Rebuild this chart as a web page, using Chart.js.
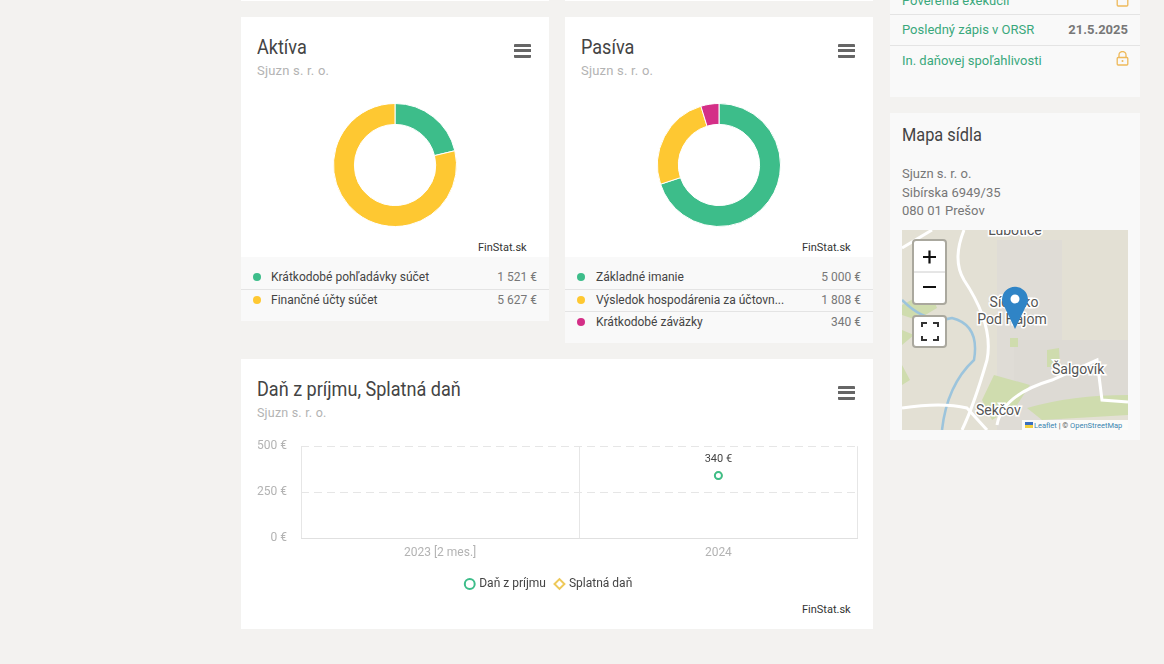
<!DOCTYPE html>
<html lang="sk">
<head>
<meta charset="utf-8">
<title>Sjuzn s. r. o.</title>
<script src="https://cdn.jsdelivr.net/npm/chart.js@4"></script>
<style>
html,body{margin:0;padding:0;background:#f3f2f0;width:1164px;height:664px;overflow:hidden;font-family:Roboto,sans-serif;color:#444}
.box{position:absolute}
.white{background:#fff}
.grey{background:#f9f9f9}
.txt{position:absolute;white-space:nowrap}
.title{font-size:21px;line-height:24px;color:#444;transform-origin:0 50%;transform:scaleX(.86)}
.sub{font-size:13px;line-height:16px;color:#b3b3b3;letter-spacing:.2px}
.fin{font-size:11px;line-height:14px;color:#333}
.row{font-size:12px;line-height:16px;color:#444}
.val{font-size:12px;line-height:16px;color:#777;text-align:right}
.dot{position:absolute;width:8px;height:8px;border-radius:50%}
.line{position:absolute;height:1px;background:#e4e4e4}
.burger{position:absolute;width:17px;height:14px;background:linear-gradient(#666 0 3px,transparent 3px 5.5px,#666 5.5px 8.5px,transparent 8.5px 11px,#666 11px 14px);border-radius:1px}
.green{color:#3aa87c;font-size:13px;line-height:16px}
canvas{position:absolute}
</style>
</head>
<body>
<!-- cards -->
<div class="box white" style="left:241px;top:0;width:308px;height:1px"></div>
<div class="box white" style="left:565px;top:0;width:308px;height:1px"></div>
<div class="box white" style="left:241px;top:17px;width:308px;height:240px"></div>
<div class="box grey" style="left:241px;top:257px;width:308px;height:64px"></div>
<div class="box white" style="left:565px;top:17px;width:308px;height:240px"></div>
<div class="box grey" style="left:565px;top:257px;width:308px;height:86px"></div>
<div class="box white" style="left:241px;top:359px;width:632px;height:270px"></div>
<div class="box grey" style="left:890px;top:0;width:250px;height:97px"></div>
<div class="box grey" style="left:890px;top:113px;width:250px;height:327px"></div>

<div class="txt title" style="left:257px;top:35px">Aktíva</div>
<div class="txt sub" style="left:257px;top:63px">Sjuzn s. r. o.</div>
<div class="burger" style="left:514px;top:44px"></div>
<div class="txt fin" style="left:478px;top:241px">FinStat.sk</div>
<canvas id="aktivaChart" style="left:241px;top:90px;width:308px;height:150px"></canvas>
<div class="dot" style="left:253px;top:273px;background:#3dbd8a"></div>
<div class="txt row" style="left:271px;top:269px">Krátkodobé pohľadávky súčet</div>
<div class="txt val" style="right:627px;top:269px">1 521 €</div>
<div class="line" style="left:241px;top:289px;width:308px"></div>
<div class="dot" style="left:253px;top:296px;background:#fec832"></div>
<div class="txt row" style="left:271px;top:292px">Finančné účty súčet</div>
<div class="txt val" style="right:627px;top:292px">5 627 €</div>

<div class="txt title" style="left:581px;top:35px">Pasíva</div>
<div class="txt sub" style="left:581px;top:63px">Sjuzn s. r. o.</div>
<div class="burger" style="left:838px;top:44px"></div>
<div class="txt fin" style="left:802px;top:241px">FinStat.sk</div>
<canvas id="pasivaChart" style="left:565px;top:90px;width:308px;height:150px"></canvas>
<div class="dot" style="left:577px;top:273px;background:#3dbd8a"></div>
<div class="txt row" style="left:596px;top:269px">Základné imanie</div>
<div class="txt val" style="right:303px;top:269px">5 000 €</div>
<div class="line" style="left:565px;top:289px;width:308px"></div>
<div class="dot" style="left:577px;top:296px;background:#fec832"></div>
<div class="txt row" style="left:596px;top:292px">Výsledok hospodárenia za účtovn...</div>
<div class="txt val" style="right:303px;top:292px">1 808 €</div>
<div class="line" style="left:565px;top:311px;width:308px"></div>
<div class="dot" style="left:577px;top:318px;background:#d42f87"></div>
<div class="txt row" style="left:596px;top:314px">Krátkodobé záväzky</div>
<div class="txt val" style="right:303px;top:314px">340 €</div>

<div class="txt title" style="left:257px;top:377px">Daň z príjmu, Splatná daň</div>
<div class="txt sub" style="left:257px;top:405px;font-size:12.5px">Sjuzn s. r. o.</div>
<div class="burger" style="left:838px;top:386px"></div>
<canvas id="danChart" style="left:241px;top:425px;width:632px;height:175px"></canvas>
<div class="txt fin" style="left:802px;top:603px">FinStat.sk</div>

<!-- side column -->
<div class="line" style="left:890px;top:14px;width:250px"></div>
<div class="txt green" style="left:902px;top:-7px">Poverenia exekúcií</div>
<div class="txt green" style="left:902px;top:22px">Posledný zápis v ORSR</div>
<div class="txt" style="right:36px;top:22px;font-size:13px;line-height:16px;font-weight:700;color:#777">21.5.2025</div>
<div class="line" style="left:890px;top:45px;width:250px"></div>
<div class="txt green" style="left:902px;top:53px">In. daňovej spoľahlivosti</div>
<svg class="box" style="left:1116px;top:51px" width="13" height="15" viewBox="0 0 13 15"><path d="M3 7V4a3.5 3.5 0 0 1 7 0v3" fill="none" stroke="#eeb95a" stroke-width="1.3"/><rect x="1.2" y="6.5" width="10.6" height="7.5" rx="1" fill="none" stroke="#eeb95a" stroke-width="1.3"/><circle cx="6.5" cy="10" r="1" fill="#eeb95a"/></svg>
<svg class="box" style="left:1116px;top:-8px" width="13" height="15" viewBox="0 0 13 15"><rect x="1.2" y="6.5" width="10.6" height="7.5" rx="1" fill="none" stroke="#eeb95a" stroke-width="1.3"/></svg>
<div class="txt title" style="left:902px;top:123px;font-size:19px">Mapa sídla</div>
<div class="txt" style="left:902px;top:165px;font-size:13px;line-height:18.5px;color:#777">Sjuzn s. r. o.<br>Sibírska 6949/35<br>080 01 Prešov</div>

<svg class="box" style="left:902px;top:230px" width="226" height="200" viewBox="0 0 226 200" font-family="Roboto,sans-serif">
  <rect width="226" height="200" fill="#e3e0d4"/>
  <rect x="95" y="10" width="65" height="190" fill="#dfdcd6"/>
  <rect x="112" y="110" width="114" height="70" fill="#dddad4"/>
  <path d="M0 75 L28 60 L35 78 L15 90 L0 85Z M0 100 L12 105 L0 115Z M0 135 L8 150 L0 155Z M145 120 L157 118 L158 137 L145 137Z M108 108 L116 108 L116 117 L108 117Z M125 178 Q170 165 226 165 L226 185 L140 190Z M92 145 L128 155 L115 175 L90 190 L80 170Z" fill="#cfdcae"/>
  <path d="M0 70 Q25 95 50 88 Q78 95 72 130 Q45 155 40 200" fill="none" stroke="#9cc4dc" stroke-width="2.5"/>
  <path d="M62 0 Q50 30 62 50 Q92 95 85 130 Q72 175 60 200 M0 18 L30 0 M0 178 Q40 172 65 178 L85 200 M95 195 Q100 165 150 150 L195 130 L200 170 L226 172" fill="none" stroke="#fff" stroke-width="3"/>
  <text x="113" y="5" text-anchor="middle" font-size="14" fill="#555" stroke="#fff" stroke-width="3" paint-order="stroke">Ľubotice</text>
  <g font-size="14" fill="#555" stroke="#fff" stroke-width="3" paint-order="stroke">
    <text x="112" y="77" text-anchor="middle">Sídlisko</text>
    <text x="110" y="94" text-anchor="middle">Pod Hájom</text>
    <text x="150" y="144">Šalgovík</text>
    <text x="74" y="185">Sekčov</text>
  </g>
  <path d="M113 99 L103 78 A13 13 0 1 1 123 78Z" fill="#2f84c6"/>
  <circle cx="113" cy="69" r="4.5" fill="#fff"/>
  <rect x="120" y="190" width="106" height="10" fill="#fff" opacity=".85"/>
  <text x="132" y="197.5" font-size="7.5" fill="#3a86b0">Leaflet <tspan fill="#555">| ©</tspan> OpenStreetMap</text>
  <rect x="123" y="192" width="8" height="3" fill="#3a6fc0"/><rect x="123" y="195" width="8" height="3" fill="#f0d040"/>
  <rect x="11" y="10" width="33" height="64" rx="3" fill="#fff" stroke="#aaa89e" stroke-width="2"/>
  <line x1="12" y1="42" x2="43" y2="42" stroke="#ccc"/>
  <path d="M21 27H34M27.500 20.500V33.500M21 57H34" stroke="#111" stroke-width="2.200"/>
  <rect x="11" y="86" width="33" height="31" rx="3" fill="#fff" stroke="#aaa89e" stroke-width="2"/>
  <path d="M20 97V93H25M31 93H36V97M36 106V110H31M25 110H20V106" fill="none" stroke="#333" stroke-width="2"/>
</svg>

<script>
// data
var aktivaLabels = ["Krátkodobé pohľadávky súčet", "Finančné účty súčet"];
var aktivaValues = [1521, 5627];
var pasivaLabels = ["Základné imanie", "Výsledok hospodárenia za účtovné obdobie", "Krátkodobé záväzky"];
var pasivaValues = [5000, 1808, 340];
var danYears = ["2023 [2 mes.]", "2024"];
var danZPrijmu = [null, 340];
var splatnaDan = [null, 340];
var danTicks = [0, 250, 500];

var green = "#3dbd8a", yellow = "#fec832", pink = "#d42f87";
Chart.defaults.font.family = "Roboto, sans-serif";
Chart.defaults.animation = false;

function makeDonut(id, labels, values, colors) {
    new Chart(document.getElementById(id), {
        type: "doughnut",
        data: {
            labels: labels,
            datasets: [{ data: values, backgroundColor: colors, borderColor: "#fff", borderWidth: 1 }]
        },
        options: {
            responsive: false,
            cutout: "66%",
            layout: { padding: 13 },
            plugins: { legend: { display: false }, tooltip: { enabled: false } }
        }
    });
}

function sizeCanvas(id, w, h) {
    var c = document.getElementById(id);
    c.width = w;
    c.height = h;
}
sizeCanvas("aktivaChart", 308, 150);
sizeCanvas("pasivaChart", 308, 150);
sizeCanvas("danChart", 632, 175);

makeDonut("aktivaChart", aktivaLabels, aktivaValues, [green, yellow]);
makeDonut("pasivaChart", pasivaLabels, pasivaValues, [green, yellow, pink]);

// value label above the point
var valueLabel = {
    id: "valueLabel",
    afterDatasetsDraw: function (chart) {
        var meta = chart.getDatasetMeta(1);
        var ctx = chart.ctx;
        ctx.save();
        ctx.font = "11px Roboto, sans-serif";
        ctx.fillStyle = "#444";
        ctx.textAlign = "center";
        ctx.textBaseline = "middle";
        splatnaDan.forEach(function (v, i) {
            if (v === null) return;
            ctx.fillText(v + " €", meta.data[i].x, meta.data[i].y - 16);
        });
        ctx.restore();
    }
};

new Chart(document.getElementById("danChart"), {
    type: "line",
    data: {
        labels: danYears,
        datasets: [
            {
                label: "Daň z príjmu", data: danZPrijmu, showLine: false, pointStyle: "circle",
                pointRadius: 3.5, borderColor: green, backgroundColor: "#fff", pointBorderWidth: 2
            },
            {
                label: "Splatná daň", data: splatnaDan, showLine: false, pointStyle: "circle",
                pointRadius: 3.5, borderColor: "rgba(232,206,70,.9)", backgroundColor: "rgba(240,228,90,.95)", pointBorderWidth: 1.500
            }
        ]
    },
    options: {
        responsive: false,
        layout: { padding: { top: 9, right: 15.500, left: 0, bottom: 0 } },
        scales: {
            x: {
                offset: true,
                grid: { offset: true, color: "#e6e6e6", drawTicks: false },
                border: { color: "#e0e0e0" },
                ticks: { color: "#b3b3b3", font: { size: 12 }, padding: 8 },
                afterFit: function (s) { s.height = 30; }
            },
            y: {
                min: 0, max: 500,
                afterBuildTicks: function (s) { s.ticks = danTicks.map(function (v) { return { value: v }; }); },
                grid: { color: "#e6e6e6", drawTicks: false },
                border: { dash: [8, 5], display: false },
                ticks: {
                    color: "#b3b3b3", font: { size: 12 }, padding: 14,
                    callback: function (v) { return v + " €"; }
                },
                afterFit: function (s) { s.width = 60; }
            }
        },
        plugins: {
            tooltip: { enabled: false },
            legend: {
                position: "bottom",
                labels: {
                    usePointStyle: true, boxWidth: 7, boxHeight: 7, padding: 10, color: "#444",
                    font: { size: 12 },
                    generateLabels: function (chart) {
                        return [
                            { text: "Daň z príjmu", pointStyle: "circle", fillStyle: "#fff", strokeStyle: green, lineWidth: 2, fontColor: "#444", datasetIndex: 0 },
                            { text: "Splatná daň", pointStyle: "rectRot", fillStyle: "#fff", strokeStyle: "#eec95a", lineWidth: 2, fontColor: "#444", datasetIndex: 1 }
                        ];
                    }
                }
            }
        }
    },
    plugins: [valueLabel]
});
</script>
</body>
</html>
